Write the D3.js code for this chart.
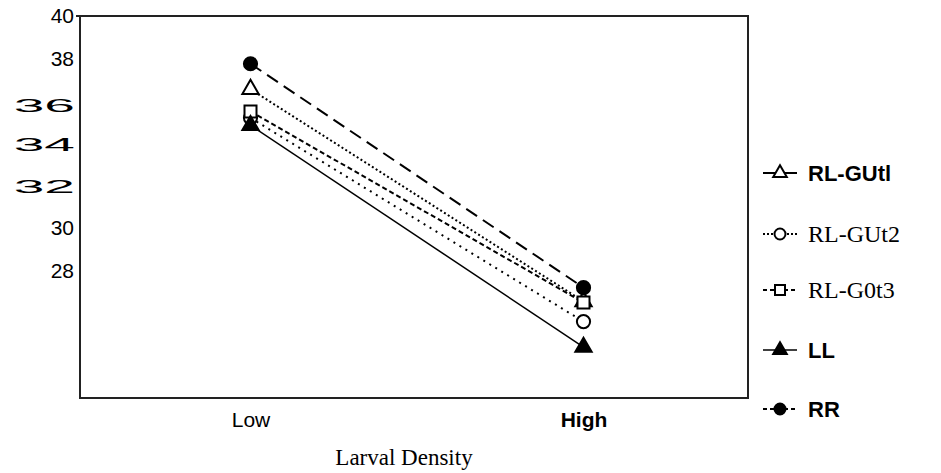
<!DOCTYPE html>
<html>
<head>
<meta charset="utf-8">
<script src="https://cdn.jsdelivr.net/npm/d3@7"></script>
<style>
  body { margin: 0; background: #fff; }
  svg { display: block; }
</style>
</head>
<body>
<svg id="chart" width="941" height="473"></svg>
<script>
// data
const densities = ["Low", "High"];
const seriesNames = ["RL-GUtl", "RL-GUt2", "RL-G0t3", "LL", "RR"];
const rlGut1 = [36.55, 26.55];
const rlGut2 = [35.2, 25.6];
const rlG0t3 = [35.5, 26.5];
const ll = [34.85, 24.4];
const rr = [37.75, 27.2];
const yTicks = [40, 38, 36, 34, 32, 30, 28];
const wideTicks = [36, 34, 32]; // printed in a wide face in the original

const series = [
  { name: seriesNames[0], values: rlGut1, marker: "triangle", fill: "#fff", dash: "2,2.5", width: 2, bold: true },
  { name: seriesNames[1], values: rlGut2, marker: "circle", fill: "#fff", dash: "2,5", width: 2, bold: false },
  { name: seriesNames[2], values: rlG0t3, marker: "square", fill: "#fff", dash: "5,3", width: 2, bold: false },
  { name: seriesNames[3], values: ll, marker: "triangle", fill: "#000", dash: null, width: 1.5, bold: true },
  { name: seriesNames[4], values: rr, marker: "circle", fill: "#000", dash: "13,7", width: 2, bold: true }
];

const svg = d3.select("#chart");
const box = { left: 80, right: 748, top: 16, bottom: 398 };
const sans = "Liberation Sans, Arial, sans-serif";
const serif = "Liberation Serif, Times New Roman, serif";

const x = d3.scalePoint()
  .domain(densities)
  .range([box.left + 4, box.right + 2])
  .padding(0.5);

const y = d3.scaleLinear()
  .domain([22, 40])
  .range([box.bottom, box.top]);

// frame
svg.append("rect")
  .attr("x", box.left).attr("y", box.top)
  .attr("width", box.right - box.left).attr("height", box.bottom - box.top)
  .attr("fill", "none").attr("stroke", "#222").attr("stroke-width", 2);

// y axis
const yAxis = svg.append("g")
  .attr("transform", `translate(${box.left},0)`)
  .call(d3.axisLeft(y).tickValues(yTicks).tickSize(0).tickPadding(6));
yAxis.select(".domain").remove();
yAxis.selectAll(".tick text")
  .attr("fill", "#000")
  .style("font-family", sans)
  .style("font-size", "21px")
  .each(function(d) {
    if (wideTicks.includes(d)) {
      d3.select(this)
        .attr("x", 0)
        .attr("transform", `translate(-5,${d === 36 ? 5 : 1}) scale(2.9,1)`)
        .style("font-size", "19px");
    }
  });
// small tick at the top value
svg.append("line")
  .attr("x1", box.left - 4).attr("x2", box.left)
  .attr("y1", y(40)).attr("y2", y(40))
  .attr("stroke", "#222").attr("stroke-width", 2);

// x axis labels
const xAxis = svg.append("g")
  .attr("transform", `translate(0,${box.bottom})`)
  .call(d3.axisBottom(x).tickSize(0).tickPadding(14));
xAxis.select(".domain").remove();
xAxis.selectAll(".tick text")
  .attr("fill", "#000")
  .style("font-family", sans)
  .style("font-size", "21px")
  .style("font-weight", d => d === "High" ? "bold" : "normal");

svg.append("text")
  .attr("x", 404).attr("y", 465)
  .attr("text-anchor", "middle")
  .style("font-family", serif)
  .style("font-size", "23px")
  .text("Larval Density");

function drawMarker(g, s, cx, cy, size) {
  if (s.marker === "circle") {
    g.append("circle").attr("cx", cx).attr("cy", cy).attr("r", size * 0.55)
      .attr("fill", s.fill).attr("stroke", "#000").attr("stroke-width", 2);
  } else if (s.marker === "square") {
    g.append("rect").attr("x", cx - size / 2).attr("y", cy - size / 2)
      .attr("width", size).attr("height", size)
      .attr("fill", s.fill).attr("stroke", "#000").attr("stroke-width", 2);
  } else {
    g.append("path")
      .attr("d", d3.symbol(d3.symbolTriangle, size * size * 0.8)())
      .attr("transform", `translate(${cx},${cy})`)
      .attr("fill", s.fill).attr("stroke", "#000").attr("stroke-width", 2);
  }
}

const line = d3.line()
  .x((d, i) => x(densities[i]))
  .y(d => y(d));

const plot = svg.append("g");
series.forEach(s => {
  plot.append("path")
    .attr("d", line(s.values))
    .attr("fill", "none")
    .attr("stroke", "#000")
    .attr("stroke-width", s.width)
    .attr("stroke-dasharray", s.dash);
});
series.forEach(s => {
  s.values.forEach((v, i) => drawMarker(plot, s, x(densities[i]), y(v), 12));
});

// legend
const legend = svg.append("g");
const legendY = [173, 234, 290, 350, 409];
series.forEach((s, i) => {
  const ly = legendY[i];
  legend.append("line")
    .attr("x1", 763).attr("x2", 797).attr("y1", ly).attr("y2", ly)
    .attr("stroke", "#000").attr("stroke-width", s.width)
    .attr("stroke-dasharray", s.marker === "triangle" ? null : (s.dash === "2,5" ? "2,2" : "4,3"));
  drawMarker(legend, s, 780, ly, 10);
  legend.append("text")
    .attr("x", 808).attr("y", ly).attr("dy", "0.35em")
    .style("font-family", s.bold ? sans : serif)
    .style("font-size", s.bold ? "22px" : "24px")
    .style("font-weight", s.bold ? "bold" : "normal")
    .text(s.name);
});
</script>
</body>
</html>
